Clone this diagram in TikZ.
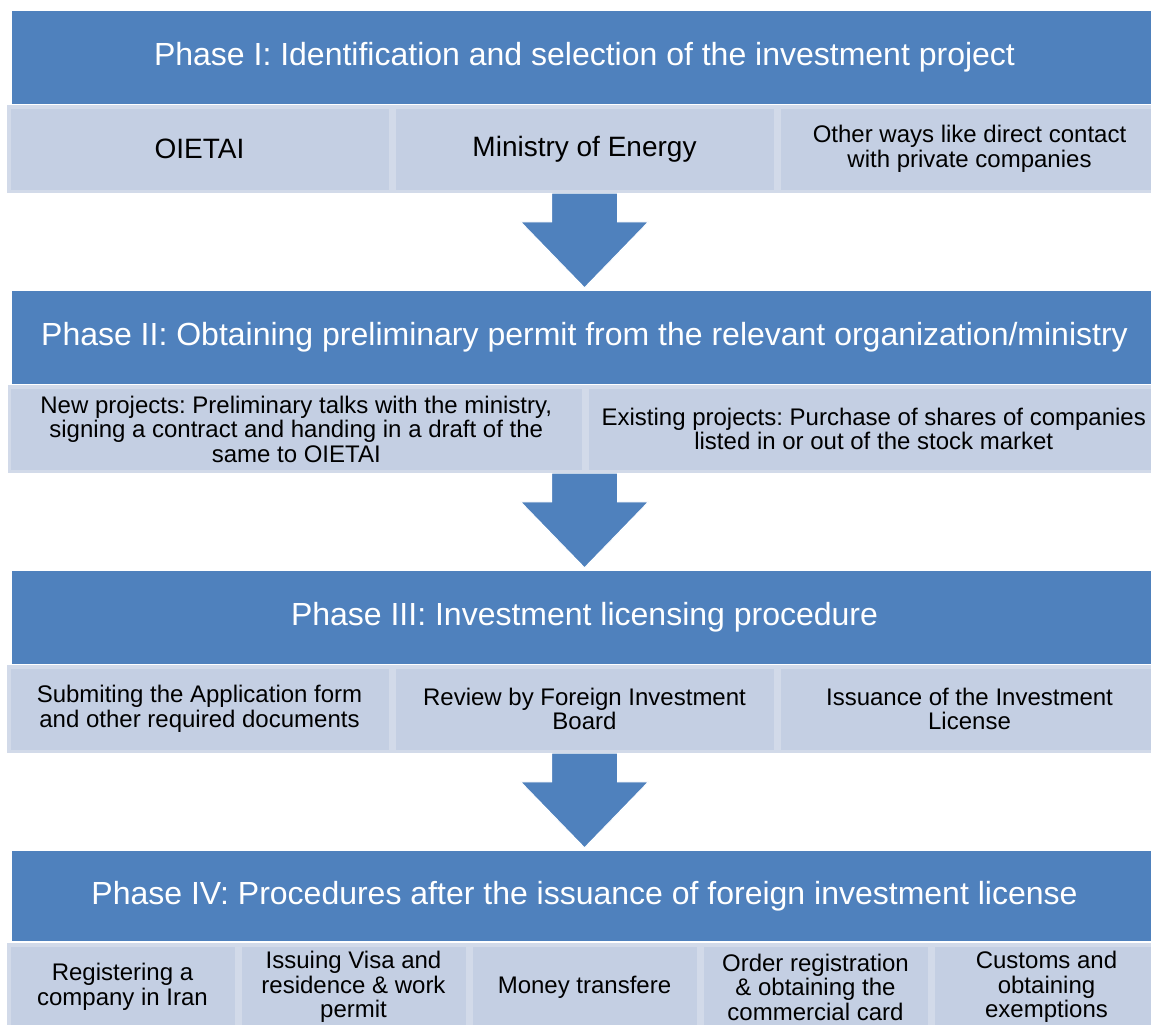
\documentclass[tikz,border=0pt]{standalone}
\usepackage{fontspec}
\setmainfont{Liberation Sans}
\usetikzlibrary{positioning,calc,backgrounds}
\definecolor{phaseCol}{RGB}{79,129,189}
\definecolor{itemCol}{RGB}{196,207,227}
\definecolor{itemLine}{RGB}{210,218,233}
\frenchspacing
\tikzset{
  phase/.style={fill=phaseCol,text=white,inner sep=0pt,minimum width=1145pt,
                minimum height=93pt,font=\fontsize{32}{36}\selectfont},
  item/.style={fill=itemCol,draw=itemLine,line width=3.5pt,inner sep=0pt,
               align=center,minimum height=84.5pt,font=\fontsize{24}{24.5}\selectfont},
  big/.style={font=\fontsize{28}{30}\selectfont},
  third/.style={item,minimum width=381.5pt},
  half/.style={item,minimum width=574pt},
  fifth/.style={item,minimum width=227.5pt},
  blockarrow/.style={fill=phaseCol,draw=white,line width=1pt,line join=miter},
}
% block arrow: #1 = top of the shaft, #2 = tip
\newcommand{\phasearrow}[2]{%
  \path[blockarrow] let \p1=(#1), \p2=(#2) in
    (\x2-33pt,\y1) -- (\x2+33pt,\y1) -- (\x2+33pt,\y2+66pt) -- (\x2+64pt,\y2+66pt)
    -- (\x2,\y2) -- (\x2-64pt,\y2+66pt) -- (\x2-33pt,\y2+66pt) -- cycle;}
\begin{document}
\begin{tikzpicture}[x=1pt,y=-1pt]
  \useasboundingbox (0,0) rectangle (1151,1025);
  % --- Phase I: identification ---
  \node[phase] (ph1) at (584.5,57.5)
    {Phase I: Identification and selection of the investment project};
  \node[third,big] (s1a) at (199.5,149) {OIETAI};
  \node[third,big] (s1b) at (584.5,149) {Ministry of Energy};
  \node[third] (s1c) at (969.5,149) {Other ways like direct contact\\with private companies};
  % --- Phase II: preliminary permit ---
  \node[phase] (ph2) at (584.5,337.5)
    {Phase II: Obtaining preliminary permit from the relevant organization/ministry};
  \node[half] (s2a) at (296.25,429)
    {New projects: Preliminary talks with the ministry,\\signing a contract and handing in a draft of the\\same to OIETAI};
  \node[half] (s2b) at (873.75,429)
    {Existing projects: Purchase of shares of companies\\listed in or out of the stock market};
  % --- Phase III: licensing ---
  \node[phase] (ph3) at (584.5,617.5) {Phase III: Investment licensing procedure};
  \node[third] (s3a) at (199.5,709) {Submiting the Application form\\and other required documents};
  \node[third] (s3b) at (584.5,709) {Review by Foreign Investment\\Board};
  \node[third] (s3c) at (969.5,709) {Issuance of the Investment\\License};
  % --- Phase IV: after the license ---
  \node[phase,minimum height=90pt] (ph4) at (584.5,896)
    {Phase IV: Procedures after the issuance of foreign investment license};
  \node[fifth] (s4a) at (122.5,987) {Registering a\\company in Iran};
  \node[fifth] (s4b) at (353.5,987) {Issuing Visa and\\residence \& work\\permit};
  \node[fifth] (s4c) at (584.5,987) {Money transfere};
  \node[fifth] (s4d) at (815.5,987) {Order registration\\\& obtaining the\\commercial card};
  \node[fifth] (s4e) at (1046.5,987) {Customs and\\obtaining\\exemptions};
  % --- block arrows between the phases ---
  \begin{scope}[on background layer]
    \phasearrow{s1b.south}{$(ph2.north)+(0,-3)$}
    \phasearrow{s2a.south}{$(ph3.north)+(0,-3)$}
    \phasearrow{s3b.south}{$(ph4.north)+(0,-3)$}
  \end{scope}
\end{tikzpicture}
\end{document}
